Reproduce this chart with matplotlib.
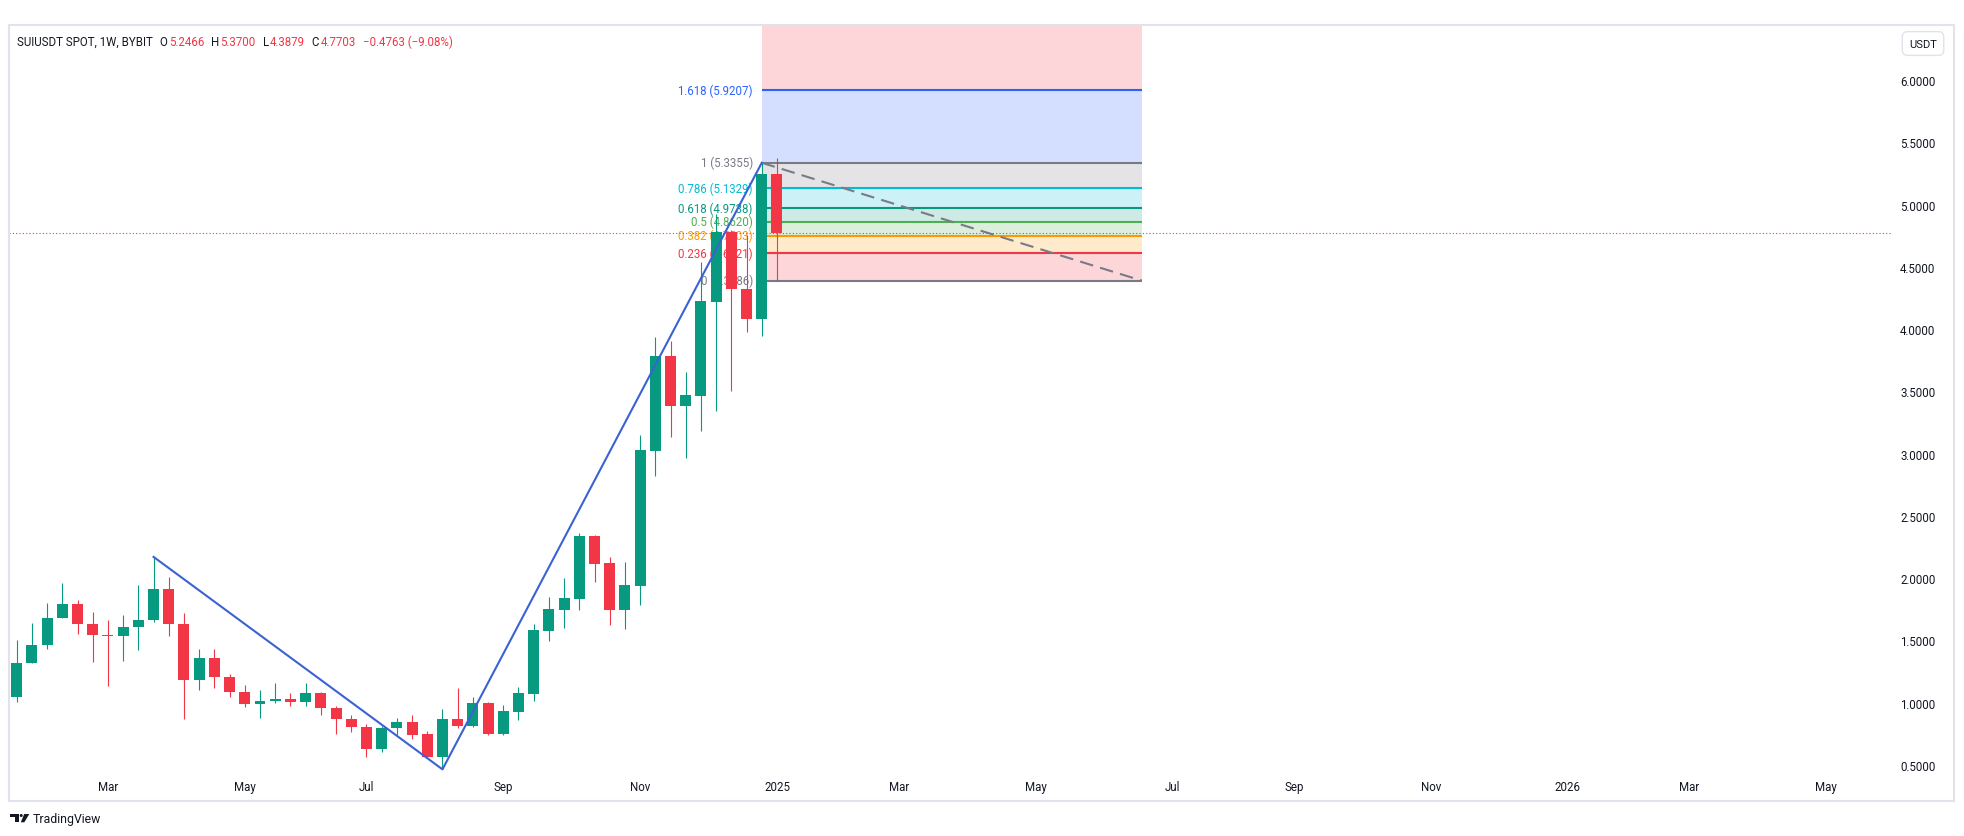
import matplotlib
matplotlib.use("Agg")
import matplotlib.pyplot as plt
import matplotlib.dates as mdates
from matplotlib.patches import Rectangle, Circle, Polygon
from matplotlib.transforms import Affine2D
import pandas as pd

plt.rcParams['font.family'] = ['Roboto', 'DejaVu Sans']

# weekly SUIUSDT candles, first bar = week of 2024-01-22, last = week of 2025-01-06
first_week = "2024-01-22"
opens = [1.046, 1.322, 1.461, 1.684, 1.791, 1.634, 1.544, 1.538, 1.611, 1.668,
         1.912, 1.634, 1.183, 1.362, 1.207, 1.086, 0.990, 1.017, 1.033, 1.006,
         1.081, 0.958, 0.869, 0.805, 0.625, 0.800, 0.848, 0.746, 0.564, 0.867,
         0.813, 0.995, 0.746, 0.926, 1.073, 1.577, 1.746, 1.831, 2.338, 2.121,
         1.746, 1.939, 3.024, 3.782, 3.385, 3.465, 4.221, 4.779, 4.323, 4.082,
         5.2466]
highs = [1.502, 1.644, 1.804, 1.965, 1.826, 1.732, 1.662, 1.708, 1.944, 2.171,
         2.013, 1.719, 1.435, 1.435, 1.228, 1.145, 1.100, 1.161, 1.076, 1.161,
         1.089, 0.974, 0.899, 0.826, 0.813, 0.880, 0.899, 0.773, 0.952, 1.116,
         1.049, 1.004, 0.979, 1.129, 1.630, 1.845, 2.000, 2.359, 2.346, 2.174,
         2.126, 3.150, 3.935, 3.902, 3.659, 4.540, 4.926, 4.792, 4.752, 5.3355,
         5.3700]
lows = [1.006, 1.315, 1.435, 1.678, 1.550, 1.327, 1.134, 1.335, 1.424, 1.649,
        1.536, 0.872, 1.102, 1.118, 1.046, 0.966, 0.877, 1.001, 0.974, 0.974,
        0.901, 0.749, 0.765, 0.564, 0.604, 0.738, 0.706, 0.558, 0.465, 0.794,
        0.805, 0.744, 0.741, 0.861, 1.014, 1.496, 1.603, 1.746, 1.971, 1.625,
        1.590, 1.786, 2.823, 3.131, 2.967, 3.179, 3.345, 3.500, 3.980, 3.948,
        4.3879]
closes = [1.322, 1.461, 1.684, 1.791, 1.630, 1.544, 1.538, 1.611, 1.668, 1.912,
          1.634, 1.183, 1.362, 1.207, 1.086, 0.987, 1.017, 1.033, 1.006, 1.081,
          0.958, 0.869, 0.805, 0.625, 0.800, 0.848, 0.738, 0.564, 0.867, 0.813,
          0.995, 0.746, 0.931, 1.076, 1.582, 1.751, 1.839, 2.338, 2.113, 1.746,
          1.944, 3.029, 3.782, 3.385, 3.471, 4.224, 4.779, 4.318, 4.082, 5.2466,
          4.7703]

# zigzag drawn through swing high -> swing low -> top (bar indices)
zigzag_bars = [9, 28, 49]

# fib retracement
fib_low = 4.3886
fib_high = 5.3355
fib_ratios = [0, 0.236, 0.382, 0.5, 0.618, 0.786, 1, 1.618, 2.618]
fib_colors = ['#787b86', '#f23645', '#ff9800', '#4caf50', '#089981',
              '#00bcd4', '#787b86', '#2962ff', '#f23645']
fib_start_bar = 49
fib_end = "2025-06-23"

price_ticks = [0.5, 1.0, 1.5, 2.0, 2.5, 3.0, 3.5, 4.0, 4.5, 5.0, 5.5, 6.0]
tick_months = pd.date_range("2024-03-01", "2026-05-01", freq="2MS")

header_name = "SUIUSDT SPOT, 1W, BYBIT"
header_ohlc = [("O", "5.2466"), ("H", "5.3700"), ("L", "4.3879"), ("C", "4.7703")]
header_change = "\u22120.4763 (\u22129.08%)"

UP = '#089981'
DOWN = '#f23645'
DARK = '#131722'
W, H = 1964, 837

fig = plt.figure(figsize=(W / 100, H / 100), dpi=100)
# plot area in pixels: x 9..1892, y 26..775
ax = fig.add_axes([9 / W, 1 - 775 / H, (1892 - 9) / W, (775 - 26) / H])
pix = Affine2D().scale(1 / W, -1 / H).translate(0, 1) + fig.transFigure

dates = pd.date_range(first_week, periods=len(opens), freq="7D")
x = mdates.date2num(dates)

# fib bands, lines and labels
fx0 = x[fib_start_bar]
fx1 = mdates.date2num(pd.Timestamp(fib_end))
levels = [fib_low + r * (fib_high - fib_low) for r in fib_ratios]
for i in range(len(levels) - 1):
    ax.fill_between([fx0, fx1], levels[i], levels[i + 1], color=fib_colors[i + 1],
                    alpha=0.2, lw=0, zorder=1)
for r, lv, c in zip(fib_ratios, levels, fib_colors):
    ax.hlines(lv, fx0, fx1, color=c, lw=1.5, zorder=2)
    ax.annotate(f"{r:g} ({lv:.4f})", xy=(fx0, lv), xytext=(-6.5, 0),
                textcoords='offset points', ha='right', va='center',
                color=c, fontsize=8.3, zorder=2.5, annotation_clip=True)
ax.plot([fx0, fx1], [fib_high, fib_low], color='#787b86', lw=1.5,
        ls=(0, (6.5, 3.5)), zorder=2.6)

# last price line
ax.axhline(closes[-1], color=DOWN, lw=0.8, ls=(0, (1, 2)), zorder=2.7)

# candles
cols = [UP if c >= o else DOWN for o, c in zip(opens, closes)]
bottoms = [min(o, c) for o, c in zip(opens, closes)]
heights = [max(abs(c - o), 0.008) for o, c in zip(opens, closes)]
ax.vlines(x, lows, highs, colors=cols, lw=0.8, zorder=3)
ax.bar(x, heights, width=5.06, bottom=bottoms, color=cols, lw=0, zorder=3.1)

# zigzag
zz_x = [x[i] for i in zigzag_bars]
zz_y = [highs[zigzag_bars[0]], lows[zigzag_bars[1]], highs[zigzag_bars[2]]]
ax.plot(zz_x, zz_y, color='#3a62d4', lw=1.5, zorder=4)

# axes
ax.set_xlim(x[0] - 3.55, x[0] + 863.3)
ax.set_ylim(0.4277, 6.4416)
for s in ax.spines.values():
    s.set_visible(False)
ax.yaxis.tick_right()
ax.set_yticks(price_ticks)
ax.set_yticklabels([f"{v:.4f}" for v in price_ticks])
ax.tick_params(axis='y', length=0, pad=5.8, labelsize=8.3, labelcolor=DARK)

tick_pos = []
tick_lab = []
for m in tick_months:
    first_monday = m + pd.Timedelta(days=(7 - m.weekday()) % 7)
    tick_pos.append(mdates.date2num(first_monday))
    tick_lab.append(str(m.year) if m.month == 1 else m.strftime('%b'))
ax.set_xticks(tick_pos)
ax.set_xticklabels(tick_lab)
ax.tick_params(axis='x', length=0, pad=4.5, labelsize=8.3, labelcolor=DARK)

# frame and price-axis currency box
fig.add_artist(Rectangle((9, 802), 1945, -776, transform=pix, fill=False,
                         edgecolor='#e0e3eb', lw=1.5))
fig.text(1923 / W, 1 - 44.5 / H, "USDT", ha='center', va='center', fontsize=8,
         color=DARK, bbox=dict(boxstyle='round,pad=0.62,rounding_size=0.5',
                               fc='white', ec='#e0e3eb', lw=1))

# header: symbol and OHLC
t = fig.text(17 / W, 1 - 42.5 / H, header_name, ha='left', va='center',
             fontsize=8.3, color=DARK)
for letter, val in header_ohlc:
    t = ax.annotate(letter, xy=(1, 0), xycoords=t, xytext=(5, 0),
                    textcoords='offset points', ha='left', va='bottom',
                    fontsize=8.3, color=DARK, annotation_clip=False)
    t = ax.annotate(val, xy=(1, 0), xycoords=t, xytext=(0.8, 0),
                    textcoords='offset points', ha='left', va='bottom',
                    fontsize=8.3, color=DOWN, annotation_clip=False)
ax.annotate(header_change, xy=(1, 0), xycoords=t, xytext=(5, 0),
            textcoords='offset points', ha='left', va='bottom',
            fontsize=8.3, color=DOWN, annotation_clip=False)

# TradingView logo
fig.add_artist(Polygon([(10, 815), (18.7, 815), (18.7, 823.3), (14.7, 823.3),
                        (14.7, 817.8), (10, 817.8)], closed=True, transform=pix,
                       fc=DARK, ec='none'))
fig.add_artist(Circle((21.2, 816.5), 1.5, transform=pix, fc=DARK, ec='none'))
fig.add_artist(Polygon([(24.2, 815), (29.3, 815), (24.3, 823.3), (20.8, 823.3)],
                       closed=True, transform=pix, fc=DARK, ec='none'))
fig.text(33 / W, 1 - 819.5 / H, "TradingView", ha='left', va='center',
         fontsize=8.8, color=DARK)

fig.savefig("out.png", dpi=100, facecolor='white')
